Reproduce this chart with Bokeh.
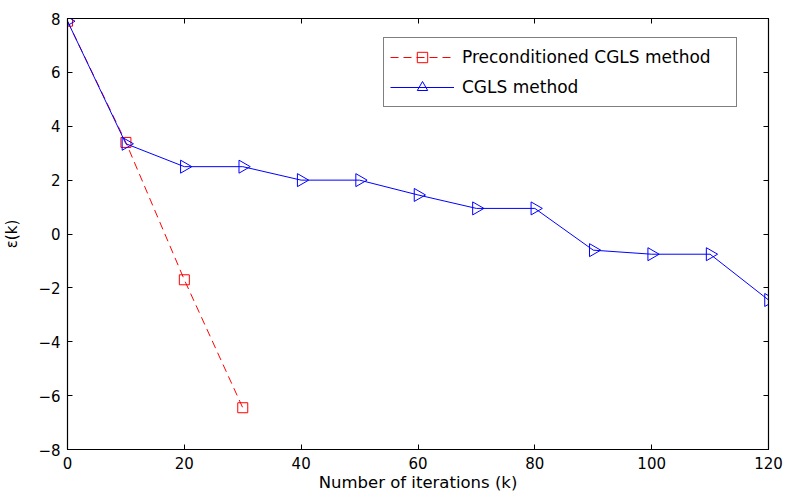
import math
from bokeh.plotting import figure
from bokeh.models import LinearAxis, FixedTicker, Range1d, Legend, LegendItem
from bokeh.embed import file_html
from bokeh.resources import INLINE

# ---- data ----
iters_pre = [0, 10, 20, 30]
eps_pre = [7.9, 3.4, -1.7, -6.45]

iters_cgls = [0, 10, 20, 30, 40, 50, 60, 70, 80, 90, 100, 110, 120]
eps_cgls = [7.9, 3.35, 2.5, 2.5, 2.0, 2.0, 1.45, 0.95, 0.95, -0.6, -0.75, -0.75, -2.45]

x_ticks = [0, 20, 40, 60, 80, 100, 120]
y_ticks = [-8, -6, -4, -2, 0, 2, 4, 6, 8]
y_tick_labels = ["\u22128", "\u22126", "\u22124", "\u22122", "0", "2", "4", "6", "8"]

FONT = "DejaVu Sans"

p = figure(width=785, height=498, x_range=Range1d(0, 120), y_range=Range1d(-8, 8),
           output_backend="svg", toolbar_location=None,
           min_border_left=65, min_border_right=17, min_border_top=18, min_border_bottom=49)
p.xgrid.visible = False
p.ygrid.visible = False
p.outline_line_color = "black"
p.outline_line_width = 1
p.background_fill_color = "white"
p.border_fill_color = "white"

def style_axis(ax, ticks, labels=True):
    ax.ticker = FixedTicker(ticks=ticks)
    ax.minor_tick_line_color = None
    ax.major_tick_in = 5
    ax.major_tick_out = 0
    ax.major_tick_line_color = "black"
    ax.axis_line_color = "black"
    ax.axis_line_width = 1.2
    ax.major_label_text_font = FONT
    if labels:
        ax.major_label_text_font_size = "15px"
        ax.major_label_text_color = "black"
    else:
        ax.major_label_text_font_size = "1px"
        ax.major_label_text_color = None
        ax.major_label_standoff = 0
    ax.axis_label_text_font = FONT
    ax.axis_label_text_font_size = "16.5px"
    ax.axis_label_text_font_style = "normal"
    ax.axis_label_text_color = "black"

xa = p.xaxis[0]
style_axis(xa, x_ticks)
xa.axis_label = "Number of iterations (k)"
xa.major_label_standoff = 7
xa.axis_label_standoff = 1

ya = p.yaxis[0]
style_axis(ya, y_ticks)
ya.axis_label = "\u03b5(k)"
ya.axis_label_text_font_size = "15px"
ya.major_label_overrides = {t: l for t, l in zip(y_ticks, y_tick_labels)}
ya.major_label_standoff = 7
ya.axis_label_standoff = 14

top = LinearAxis()
style_axis(top, x_ticks, labels=False)
p.add_layout(top, "above")
right = LinearAxis()
style_axis(right, y_ticks, labels=False)
p.add_layout(right, "right")

red = "#ff0000"
blue = "#0000ff"

l1 = p.line(iters_pre, eps_pre, line_color=red, line_width=1, line_dash="8 5")
s1 = p.scatter(iters_pre, eps_pre, marker="square", size=10, fill_color=None,
               line_color=red, line_width=1)
l2 = p.line(iters_cgls, eps_cgls, line_color=blue, line_width=1)
s2 = p.scatter(iters_cgls, eps_cgls, marker="triangle", angle=-math.pi / 2, size=13,
               fill_color=None, line_color=blue, line_width=1)

legend = Legend(items=[
    LegendItem(label="Preconditioned CGLS method", renderers=[l1, s1]),
    LegendItem(label="CGLS method", renderers=[l2, s2]),
], location=(316, 342))
legend.label_text_font = FONT
legend.label_text_font_size = "17px"
legend.label_text_color = "black"
legend.glyph_width = 64
legend.glyph_height = 26
legend.label_height = 26
legend.label_standoff = 8
legend.label_width = 268
legend.spacing = 4
legend.padding = 6
legend.margin = 0
legend.border_line_color = "black"
legend.border_line_width = 1
legend.background_fill_alpha = 1
p.add_layout(legend, "center")

open("out.html", "w").write(file_html(p, INLINE))
